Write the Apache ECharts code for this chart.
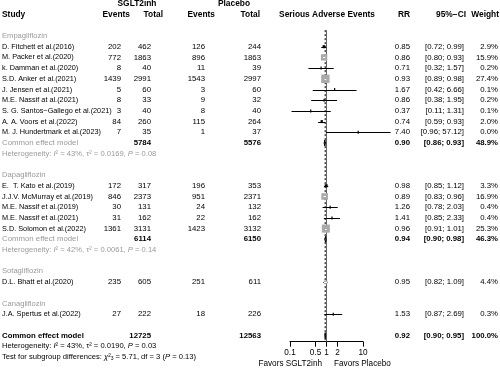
<!DOCTYPE html>
<html><head><meta charset="utf-8">
<script src="https://cdn.jsdelivr.net/npm/echarts@6/dist/echarts.min.js"></script>
<style>html,body{margin:0;padding:0;background:#fff}#c{width:500px;height:371px}</style>
</head><body><div id="c"></div>
<script>
// ---------------- data ----------------
const groupNames = ['Empagliflozin', 'Dapagliflozin', 'Sotagliflozin', 'Canagliflozin'];
const studyNames = [
  'D. Fitchett et al.(2016)', 'M. Packer et al.(2020)', 'k. Damman et al.(2020)', 'S.D. Anker et al.(2021)',
  'J. Jensen et al.(2021)', 'M.E. Nassif at al.(2021)', 'S. G. Santos\u2212Gallego et al.(2021)',
  'A. A. Voors et al.(2022)', 'M. J. Hundertmark et al.(2023)',
  'E.  T. Kato et al.(2019)', 'J.J.V. McMurray et al.(2019)', 'M.E. Nassif et al.(2019)',
  'M.E. Nassif et al.(2021)', 'S.D. Solomon et al.(2022)',
  'D.L. Bhatt et al.(2020)',
  'J.A. Spertus et al.(2022)'
];
const studyGroup   = [0,0,0,0,0,0,0,0,0, 1,1,1,1,1, 2, 3];
const eventsSGLT2  = [202, 772, 8, 1439, 5, 8, 3, 84, 7, 172, 846, 30, 31, 1361, 235, 27];
const totalSGLT2   = [462, 1863, 40, 2991, 60, 33, 40, 260, 35, 317, 2373, 131, 162, 3131, 605, 222];
const eventsPlacebo= [126, 896, 11, 1543, 3, 9, 8, 115, 1, 196, 951, 24, 22, 1423, 251, 18];
const totalPlacebo = [244, 1863, 39, 2997, 60, 32, 40, 264, 37, 353, 2371, 132, 162, 3132, 611, 226];
const studyRR      = [0.85, 0.86, 0.71, 0.93, 1.67, 0.86, 0.37, 0.74, 7.40, 0.98, 0.89, 1.26, 1.41, 0.96, 0.95, 1.53];
const studyLow     = [0.72, 0.80, 0.32, 0.89, 0.42, 0.38, 0.11, 0.59, 0.96, 0.85, 0.83, 0.78, 0.85, 0.91, 0.82, 0.87];
const studyHigh    = [0.99, 0.93, 1.57, 0.98, 6.66, 1.95, 1.31, 0.93, 57.12, 1.12, 0.96, 2.03, 2.33, 1.01, 1.09, 2.69];
const studyWeight  = [2.9, 15.9, 0.2, 27.4, 0.1, 0.2, 0.1, 2.0, 0.0, 3.3, 16.9, 0.4, 0.4, 25.3, 4.4, 0.3];

const groupTotalSGLT2   = [5784, 6114, null, null];
const groupTotalPlacebo = [5576, 6150, null, null];
const groupRR     = [0.90, 0.94, null, null];
const groupLow    = [0.86, 0.90, null, null];
const groupHigh   = [0.93, 0.98, null, null];
const groupWeight = [48.9, 46.3, null, null];
const groupI2     = ['43%', '42%', null, null];
const groupTau2   = ['0.0169', '0.0061', null, null];
const groupP      = ['0.08', '0.14', null, null];

const overallTotals = [12725, 12563];
const overallEffect = [0.92, 0.90, 0.95, 100.0]; // RR, low, high, weight
const overallHet    = ['43%', '0.0190', '0.03'];
const subgroupTest  = ['5.71', '3', '0.13']; // chi2, df, P
const axisTicks = [0.1, 0.5, 1, 2, 10];

// ---------------- layout ----------------
const ROW0 = 36, ROWH = 10.7, CH = 371, AXIS_Y = 341.7;
const yMin = -ROW0 / ROWH;
const FONT = "'Liberation Sans', Arial, sans-serif";
const GRAY = '#9a9a9a';
const FS_NAME = 7.3, FS = 7.8, FS_HEAD = 8.4, FS_SMALL = 7.6;
const COL = {name: 2, ev1: 121, tot1: 151, ev2: 205, tot2: 261, rr: 410, ci: 464, wt: 498};

const texts = [];
const marks = [];
function T(x, row, text, align, opt) { texts.push(Object.assign({x, row, text, align, size: FS, weight: 'normal', color: '#000'}, opt || {})); }
const f2 = v => v.toFixed(2);
const ciStr = (l, h) => '[' + f2(l) + '; ' + f2(h) + ']';
const H = {weight: 'bold', size: FS_HEAD};

// headers
T(137, -3, 'SGLT2inh', 'center', H);
T(234, -3, 'Placebo', 'center', H);
T(COL.name, -2, 'Study', 'left', H);
T(130, -2, 'Events', 'right', H);
T(163, -2, 'Total', 'right', H);
T(215, -2, 'Events', 'right', H);
T(260, -2, 'Total', 'right', H);
T(327, -2, 'Serious Adverse Events', 'center', H);
T(410, -2, 'RR', 'right', H);
T(466, -2, '95%\u2212CI', 'right', H);
T(499, -2, 'Weight', 'right', H);

let r = 0;
groupNames.forEach((g, gi) => {
  T(COL.name, r, g, 'left', {color: GRAY, size: FS_NAME + 0.3});
  r++;
  studyNames.forEach((s, i) => {
    if (studyGroup[i] !== gi) return;
    T(COL.name, r, s, 'left', {size: FS_NAME});
    T(COL.ev1, r, String(eventsSGLT2[i]), 'right');
    T(COL.tot1, r, String(totalSGLT2[i]), 'right');
    T(COL.ev2, r, String(eventsPlacebo[i]), 'right');
    T(COL.tot2, r, String(totalPlacebo[i]), 'right');
    T(COL.rr, r, f2(studyRR[i]), 'right');
    T(COL.ci, r, ciStr(studyLow[i], studyHigh[i]), 'right');
    T(COL.wt, r, studyWeight[i].toFixed(1) + '%', 'right');
    marks.push({kind: 'study', row: r, rr: studyRR[i], lo: studyLow[i], hi: studyHigh[i], w: studyWeight[i]});
    r++;
  });
  if (groupRR[gi] != null) {
    T(COL.name, r, 'Common effect model', 'left', {color: GRAY, size: FS_NAME + 0.5});
    T(COL.tot1, r, String(groupTotalSGLT2[gi]), 'right', {weight: 'bold'});
    T(COL.tot2, r, String(groupTotalPlacebo[gi]), 'right', {weight: 'bold'});
    T(COL.rr, r, f2(groupRR[gi]), 'right', {weight: 'bold'});
    T(COL.ci, r, ciStr(groupLow[gi], groupHigh[gi]), 'right', {weight: 'bold'});
    T(COL.wt, r, groupWeight[gi].toFixed(1) + '%', 'right', {weight: 'bold'});
    marks.push({kind: 'diamond', row: r, rr: groupRR[gi], lo: groupLow[gi], hi: groupHigh[gi]});
    r++;
    T(COL.name, r, 'Heterogeneity: {i|I}\u00b2 = ' + groupI2[gi] + ', \u03c4\u00b2 = ' + groupTau2[gi] + ', {i|P} = ' + groupP[gi], 'left', {color: GRAY, size: FS_SMALL, rich: true});
    r++;
  }
  r++;
});
// overall
T(COL.name, r, 'Common effect model', 'left', {weight: 'bold', size: FS});
T(COL.tot1, r, String(overallTotals[0]), 'right', {weight: 'bold'});
T(COL.tot2, r, String(overallTotals[1]), 'right', {weight: 'bold'});
T(COL.rr, r, f2(overallEffect[0]), 'right', {weight: 'bold'});
T(COL.ci, r, ciStr(overallEffect[1], overallEffect[2]), 'right', {weight: 'bold'});
T(COL.wt, r, overallEffect[3].toFixed(1) + '%', 'right', {weight: 'bold'});
marks.push({kind: 'diamond', row: r, rr: overallEffect[0], lo: overallEffect[1], hi: overallEffect[2]});
T(COL.name, r + 1, 'Heterogeneity: {i|I}\u00b2 = ' + overallHet[0] + ', \u03c4\u00b2 = ' + overallHet[1] + ', {i|P} = ' + overallHet[2], 'left', {size: FS_SMALL, rich: true});
T(COL.name, r + 2, 'Test for subgroup differences: {i|\u03c7}\u00b2{s|' + subgroupTest[1] + '} = ' + subgroupTest[0] + ', df = ' + subgroupTest[1] + ' ({i|P} = ' + subgroupTest[2] + ')', 'left', {size: FS_SMALL, rich: true});
T(322, (363.5 - ROW0) / ROWH, 'Favors SGLT2inh', 'right', {size: 8.2});
T(334, (363.5 - ROW0) / ROWH, 'Favors Placebo', 'left', {size: 8.2});

const refLines = [[1, 'solid'], [overallEffect[0], 'dashed']];

// ---------------- chart ----------------
const chart = echarts.init(document.getElementById('c'), null, {renderer: 'canvas'});
const yAx = (h, idx) => ({type: 'value', gridIndex: idx, min: yMin, max: yMin + h / ROWH, inverse: true, show: false});

chart.setOption({
  animation: false,
  backgroundColor: '#fff',
  grid: [
    {left: 0, top: 0, width: 500, height: CH},
    {left: 290, top: 0, width: 73, height: AXIS_Y}
  ],
  xAxis: [
    {type: 'value', gridIndex: 0, min: 0, max: 500, show: false},
    {type: 'log', gridIndex: 1, logBase: 10, min: axisTicks[0], max: axisTicks[axisTicks.length - 1], position: 'bottom',
     axisLine: {show: true, onZero: false, lineStyle: {color: '#000', width: 1}},
     axisTick: {show: true, customValues: axisTicks, length: 5, lineStyle: {color: '#000', width: 1}},
     axisLabel: {show: true, customValues: axisTicks, margin: 7, fontSize: 8.2, color: '#000', fontFamily: FONT,
                 formatter: v => String(+(+v).toPrecision(3))},
     splitLine: {show: false}, minorTick: {show: false}}
  ],
  yAxis: [yAx(CH, 0), yAx(AXIS_Y, 1)],
  series: [
    {
      type: 'custom', xAxisIndex: 0, yAxisIndex: 0, clip: false, silent: true,
      data: texts.map(t => [t.x, t.row]),
      encode: {x: 0, y: 1},
      renderItem: (params, api) => {
        const t = texts[params.dataIndex];
        const p = api.coord([t.x, t.row]);
        const style = {
          text: t.text, align: t.align, verticalAlign: 'middle', fill: t.color,
          fontSize: t.size, fontWeight: t.weight, fontFamily: FONT
        };
        if (t.rich) {
          style.rich = {
            i: {fontStyle: 'italic', fontSize: t.size, fontFamily: FONT, fill: t.color},
            s: {fontSize: 5, fontFamily: FONT, fill: t.color, padding: [4, 0, 0, 0]}
          };
        }
        return {type: 'text', x: p[0], y: p[1], style};
      }
    },
    {
      type: 'custom', xAxisIndex: 1, yAxisIndex: 1, clip: false, silent: true,
      data: refLines.map(l => [l[0], -0.55]),
      encode: {x: 0, y: 1},
      renderItem: (params, api) => {
        const l = refLines[params.dataIndex];
        const top = api.coord([l[0], -0.55]);
        const bottom = params.coordSys.y + params.coordSys.height;
        return {type: 'line', shape: {x1: top[0], y1: top[1], x2: top[0], y2: bottom},
          style: {stroke: l[1] === 'solid' ? '#666' : '#000', lineWidth: 1, lineDash: l[1] === 'solid' ? null : [2, 2]}};
      }
    },
    {
      type: 'custom', xAxisIndex: 1, yAxisIndex: 1, clip: false, silent: true,
      data: marks.map(m => [m.rr, m.row, m.lo, m.hi]),
      encode: {x: 0, y: 1},
      renderItem: (params, api) => {
        const m = marks[params.dataIndex];
        const c = api.coord([m.rr, m.row]);
        const lo = api.coord([m.lo, m.row]);
        const hi = api.coord([m.hi, m.row]);
        const y = Math.round(c[1]) + 0.5;
        if (m.kind === 'diamond') {
          const hh = 3;
          return {type: 'polygon', shape: {points: [[lo[0], c[1]], [c[0], c[1] - hh], [hi[0], c[1]], [c[0], c[1] + hh]]},
            style: {fill: '#888', stroke: '#000', lineWidth: 1}};
        }
        const side = 1.6 * Math.sqrt(m.w);
        const children = [
          {type: 'line', shape: {x1: lo[0], y1: y, x2: hi[0], y2: y}, style: {stroke: '#000', lineWidth: 1}}
        ];
        if (side >= 3) {
          children.push({type: 'rect', shape: {x: c[0] - side / 2, y: c[1] - side / 2, width: side, height: side},
            style: {fill: '#aaaaaa'}});
          const x1 = Math.max(lo[0], c[0] - side / 2), x2 = Math.min(hi[0], c[0] + side / 2);
          children.push({type: 'line', shape: {x1: x1, y1: y, x2: x2, y2: y}, style: {stroke: '#fff', lineWidth: 1}});
        } else {
          const s = Math.max(side, 1.2);
          children.push({type: 'rect', shape: {x: c[0] - s / 2, y: c[1] - 1.5, width: s, height: 3}, style: {fill: '#000'}});
        }
        return {type: 'group', children};
      }
    }
  ]
});
</script></body></html>
